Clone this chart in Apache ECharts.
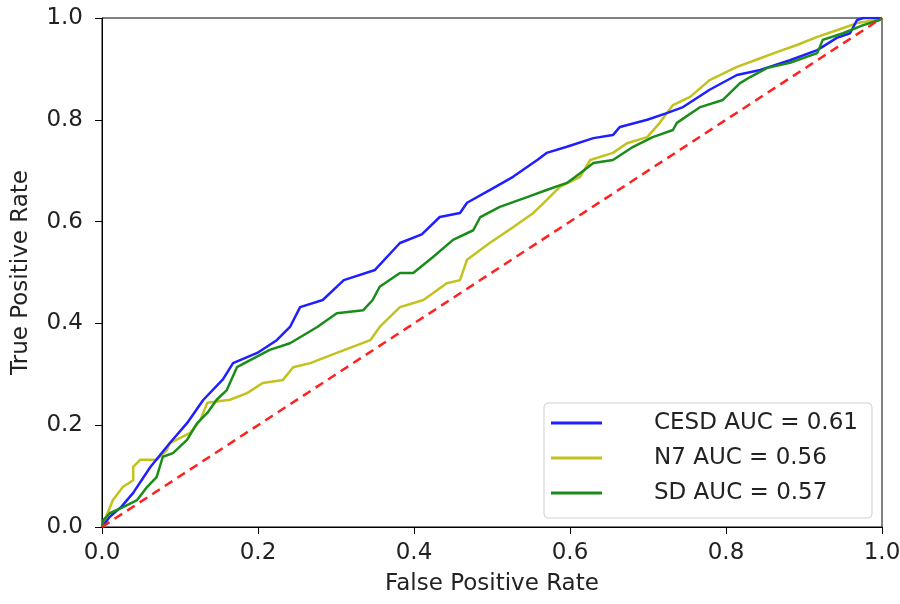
<!DOCTYPE html>
<html>
<head>
<meta charset="utf-8">
<script src="https://cdn.jsdelivr.net/npm/echarts@6/dist/echarts.min.js"></script>
<style>
  html, body { margin: 0; padding: 0; background: #fff; }
  #chart { width: 900px; height: 604px; }
</style>
</head>
<body>
<div id="chart"></div>
<script>
const ticks = [0, 0.2, 0.4, 0.6, 0.8, 1.0]

const cesdFpr = [0, 0.01, 0.025, 0.04, 0.062, 0.087, 0.109, 0.13, 0.155, 0.168, 0.199, 0.224, 0.241, 0.254, 0.283, 0.31, 0.35, 0.382, 0.41, 0.433, 0.459, 0.468, 0.497, 0.527, 0.558, 0.57, 0.596, 0.63, 0.655, 0.664, 0.699, 0.724, 0.745, 0.779, 0.814, 0.844, 0.882, 0.917, 0.942, 0.959, 0.968, 0.976, 1]
const cesdTpr = [0, 0.02, 0.04, 0.067, 0.118, 0.165, 0.204, 0.25, 0.29, 0.322, 0.342, 0.367, 0.393, 0.432, 0.446, 0.485, 0.505, 0.558, 0.575, 0.609, 0.617, 0.637, 0.662, 0.688, 0.721, 0.735, 0.747, 0.764, 0.77, 0.786, 0.8, 0.813, 0.825, 0.859, 0.888, 0.898, 0.917, 0.937, 0.961, 0.97, 0.996, 1, 1]

const n7Fpr = [0, 0.014, 0.027, 0.04, 0.04, 0.049, 0.07, 0.083, 0.087, 0.113, 0.126, 0.135, 0.164, 0.186, 0.206, 0.232, 0.245, 0.267, 0.301, 0.344, 0.356, 0.382, 0.412, 0.442, 0.459, 0.468, 0.497, 0.527, 0.553, 0.57, 0.587, 0.613, 0.626, 0.655, 0.673, 0.699, 0.715, 0.732, 0.754, 0.779, 0.814, 0.844, 0.865, 0.891, 0.917, 0.942, 0.968, 0.994, 1]
const n7Tpr = [0, 0.053, 0.079, 0.092, 0.118, 0.132, 0.132, 0.151, 0.165, 0.185, 0.21, 0.244, 0.25, 0.263, 0.283, 0.289, 0.314, 0.322, 0.342, 0.367, 0.393, 0.432, 0.446, 0.479, 0.485, 0.525, 0.558, 0.589, 0.617, 0.642, 0.668, 0.688, 0.721, 0.735, 0.754, 0.766, 0.794, 0.829, 0.845, 0.878, 0.904, 0.921, 0.933, 0.947, 0.963, 0.976, 0.99, 0.996, 1]

const sdFpr = [0, 0.002, 0.01, 0.027, 0.045, 0.058, 0.07, 0.078, 0.091, 0.109, 0.122, 0.135, 0.147, 0.16, 0.173, 0.19, 0.215, 0.241, 0.276, 0.301, 0.335, 0.347, 0.356, 0.382, 0.399, 0.424, 0.45, 0.476, 0.485, 0.51, 0.545, 0.57, 0.596, 0.613, 0.63, 0.655, 0.681, 0.706, 0.732, 0.737, 0.767, 0.796, 0.818, 0.831, 0.853, 0.882, 0.917, 0.924, 0.95, 0.976, 0.997, 1]
const sdTpr = [0, 0.014, 0.027, 0.039, 0.053, 0.079, 0.098, 0.138, 0.145, 0.171, 0.204, 0.224, 0.25, 0.269, 0.314, 0.328, 0.348, 0.361, 0.393, 0.42, 0.426, 0.446, 0.472, 0.499, 0.499, 0.53, 0.564, 0.583, 0.609, 0.629, 0.648, 0.662, 0.676, 0.695, 0.715, 0.721, 0.747, 0.766, 0.78, 0.794, 0.825, 0.839, 0.872, 0.884, 0.902, 0.912, 0.931, 0.957, 0.97, 0.986, 0.996, 1]

const chanceLine = [0, 1]

const names = ['CESD AUC = 0.61', 'N7 AUC = 0.56', 'SD AUC = 0.57']
const colors = ['#1f1fff', '#c2c21e', '#1a8c1a']

const zip = (xs, ys) => xs.map((x, i) => [x, ys[i]])

const font = 'DejaVu Sans'
const fontSize = 23

const chart = echarts.init(document.getElementById('chart'))

const axisCommon = {
  type: 'value',
  min: 0,
  max: 1,
  interval: 0.2,
  splitLine: { show: false },
  axisLine: { show: true, onZero: false, lineStyle: { color: '#000', width: 1 } },
  axisTick: { show: true, inside: false, length: 7, lineStyle: { color: '#000' } },
  axisLabel: {
    color: '#222',
    fontFamily: font,
    fontSize,
    formatter: v => v.toFixed(1),
  },
  nameLocation: 'middle',
  nameTextStyle: { color: '#222', fontFamily: font, fontSize },
}

chart.setOption({
  animation: false,
  grid: {
    left: 102,
    right: 18,
    top: 18,
    bottom: 77,
    outerBoundsMode: 'none',
    containLabel: false,
    show: true,
    borderColor: '#000',
    borderWidth: 1,
  },
  xAxis: {
    ...axisCommon,
    name: 'False Positive Rate',
    nameGap: 46,
    axisLabel: { ...axisCommon.axisLabel, margin: 15 },
  },
  yAxis: {
    ...axisCommon,
    name: 'True Positive Rate',
    nameGap: 69,
    axisLabel: { ...axisCommon.axisLabel, margin: 19 },
  },
  legend: {
    orient: 'vertical',
    left: 544,
    top: 403,
    data: names,
    icon: 'rect',
    itemWidth: 51,
    itemHeight: 3,
    itemGap: 9,
    padding: [7, 14, 12, 7],
    borderColor: '#d0d0d0',
    borderWidth: 1,
    borderRadius: 4,
    textStyle: {
      fontFamily: font,
      fontSize,
      color: '#222',
      lineHeight: 26,
      padding: [0, 0, 0, 47],
    },
  },
  series: [
    {
      name: names[0],
      type: 'line',
      data: zip(cesdFpr, cesdTpr),
      showSymbol: false,
      lineStyle: { color: colors[0], width: 2.5 },
      itemStyle: { color: colors[0] },
      z: 4,
    },
    {
      name: names[1],
      type: 'line',
      data: zip(n7Fpr, n7Tpr),
      showSymbol: false,
      lineStyle: { color: colors[1], width: 2.5 },
      itemStyle: { color: colors[1] },
      z: 3,
    },
    {
      name: names[2],
      type: 'line',
      data: zip(sdFpr, sdTpr),
      showSymbol: false,
      lineStyle: { color: colors[2], width: 2.5 },
      itemStyle: { color: colors[2] },
      z: 5,
    },
    {
      name: 'chance',
      type: 'line',
      data: zip(chanceLine, chanceLine),
      showSymbol: false,
      lineStyle: { color: '#ff2020', width: 2.5, type: [9, 6] },
      z: 6,
    },
  ],
})
</script>
</body>
</html>
